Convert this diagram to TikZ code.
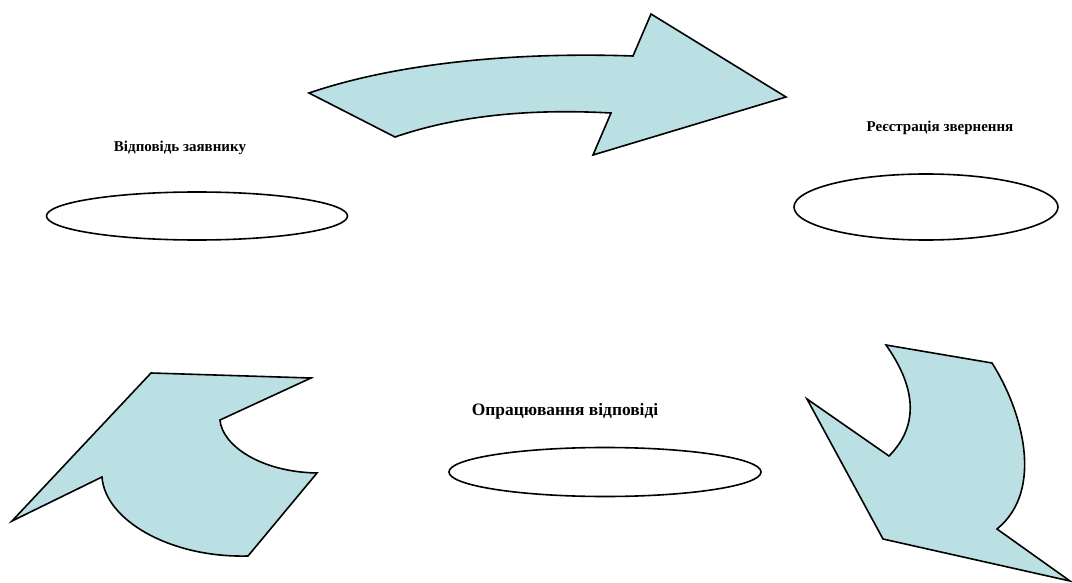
\documentclass[tikz,border=0pt]{standalone}
\usepackage{fontspec}
\setmainfont{Liberation Serif}
\usetikzlibrary{shapes.geometric,positioning}
\definecolor{arrowfill}{RGB}{187,224,227}

\begin{document}
\begin{tikzpicture}
[x=1pt,y=-1pt,
 bigarrow/.style={draw,fill=arrowfill,line width=1.6pt,line join=miter},
 stage/.style={draw,ellipse,line width=1.6pt,inner sep=0pt,outer sep=0pt},
 caption/.style={font=\bfseries\fontsize{15}{17}\selectfont},]

\useasboundingbox (0,0) rectangle (1072,583);

\node [stage,minimum width=301pt,minimum height=48pt] at (197,216) (E1) {};
\node [stage,minimum width=264pt,minimum height=66pt] at (926,207) (E2) {};
\node [stage,minimum width=312pt,minimum height=49pt] at (605,472) (E3) {};

\node [caption] at (180,148) (L1) {Відповідь заявнику};
\node [caption] at (940,128) (L2) {Реєстрація звернення};
\node [caption,font=\bfseries\fontsize{17.4}{20}\selectfont] at (565,411) (L3) {Опрацювання відповіді};

% top arrow
\draw [bigarrow] (309,93) .. controls (400,62) and (520,52) .. (633,56)
  -- (651,14) -- (786,97) -- (593,155) -- (611,113)
  .. controls (520,108) and (450,118) .. (395,137) -- cycle;
% right arrow
\draw [bigarrow] (886,345) -- (992,363)
  .. controls (1022,410) and (1045,490) .. (997,529)
  -- (1070,581) -- (883,539) -- (807,399) -- (889,456)
  .. controls (910,435) and (925,400) .. (886,345) -- cycle;
% left arrow
\draw [bigarrow] (12,521) -- (151,373) -- (311,378) -- (220,420)
  .. controls (222,445) and (260,472) .. (317,473)
  -- (248,556) .. controls (170,558) and (105,520) .. (102,477) -- cycle;
\end{tikzpicture}
\end{document}
